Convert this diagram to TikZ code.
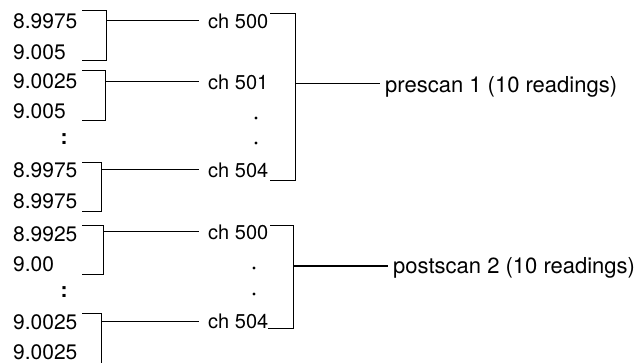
\documentclass[tikz,border=0pt]{standalone}
\usepackage{fontspec}
\setmainfont{TeX Gyre Heros}
\usetikzlibrary{positioning}
\tikzset{
  reading/.style={anchor=west,inner sep=0pt,font=\fontsize{21}{25}\selectfont},
  chan/.style={anchor=west,inner xsep=9pt,inner ysep=0pt,font=\fontsize{20}{24}\selectfont},
  scanlbl/.style={anchor=base west,inner xsep=5pt,inner ysep=0pt,font=\fontsize{22}{26}\selectfont},
  wire/.style={line width=1pt},
}

\begin{document}
\begin{tikzpicture}[x=1pt,y=-1pt]
  \useasboundingbox (0,0) rectangle (634,363);
  % readings, left column
  \node[reading] (r1) at (13,21) {8.9975};
  \node[reading] (r2) at (13,52) {9.005};
  \node[reading] (r3) at (13,81) {9.0025};
  \node[reading] (r4) at (13,111) {9.005};
  \node[reading,anchor=center] (v1) at (64,139) {\textbf{:}};
  \node[reading] (r5) at (13,170) {8.9975};
  \node[reading] (r6) at (13,201) {8.9975};
  \node[reading] (r7) at (13,234) {8.9925};
  \node[reading] (r8) at (13,264) {9.00};
  \node[reading,anchor=center] (v2) at (64,292) {\textbf{:}};
  \node[reading] (r9) at (13,322) {9.0025};
  \node[reading] (r10) at (13,352) {9.0025};

  % channels
  \node[chan] (c1) at (199,21) {ch 500};
  \node[chan] (c2) at (199,82) {ch 501};
  \node[chan] (c3) at (199,170) {ch 504};
  \node[chan] (c4) at (199,232) {ch 500};
  \node[chan] (c5) at (199,321) {ch 504};
  \fill (256,118) circle (1.6pt);
  \fill (256,143) circle (1.6pt);
  \fill (254,268) circle (1.6pt);
  \fill (254,294) circle (1.6pt);

  % scans
  \node[scanlbl] (pre) at (380,93) {prescan 1 (10 readings)};
  \node[scanlbl] (post) at (388,273) {postscan 2 (10 readings)};

  % brackets on the readings
  \draw[wire] (82,11) -| (106,61) -- (82,61);
  \draw[wire] (82,71) -| (105,121) -- (82,121);
  \draw[wire] (82,163) -| (101,212) -- (82,212);
  \draw[wire] (82,226) -| (103,274) -- (82,274);
  \draw[wire] (82,313) -| (101,365);
  \coordinate (j1) at (106,21);
  \coordinate (j2) at (105,82);
  \coordinate (j3) at (101,170);
  \coordinate (j4) at (103,232);
  \coordinate (j5) at (101,321);
  \draw[wire] (j1) -- (c1.west);
  \draw[wire] (j2) -- (c2.west);
  \draw[wire] (j3) -- (c3.west);
  \draw[wire] (j4) -- (c4.west);
  \draw[wire] (j5) -- (c5.west);

  % brackets on the channels
  \draw[wire] (270,14) -| (295,181) -- (270,181);
  \draw[wire] (270,226) -| (293,328) -- (268,328);
  \coordinate (k1) at (295,84);
  \coordinate (k2) at (293,266);
  \draw[wire] (k1) -- (k1 -| pre.west);
  \draw[wire] (k2) -- (k2 -| post.west);
\end{tikzpicture}
\end{document}
